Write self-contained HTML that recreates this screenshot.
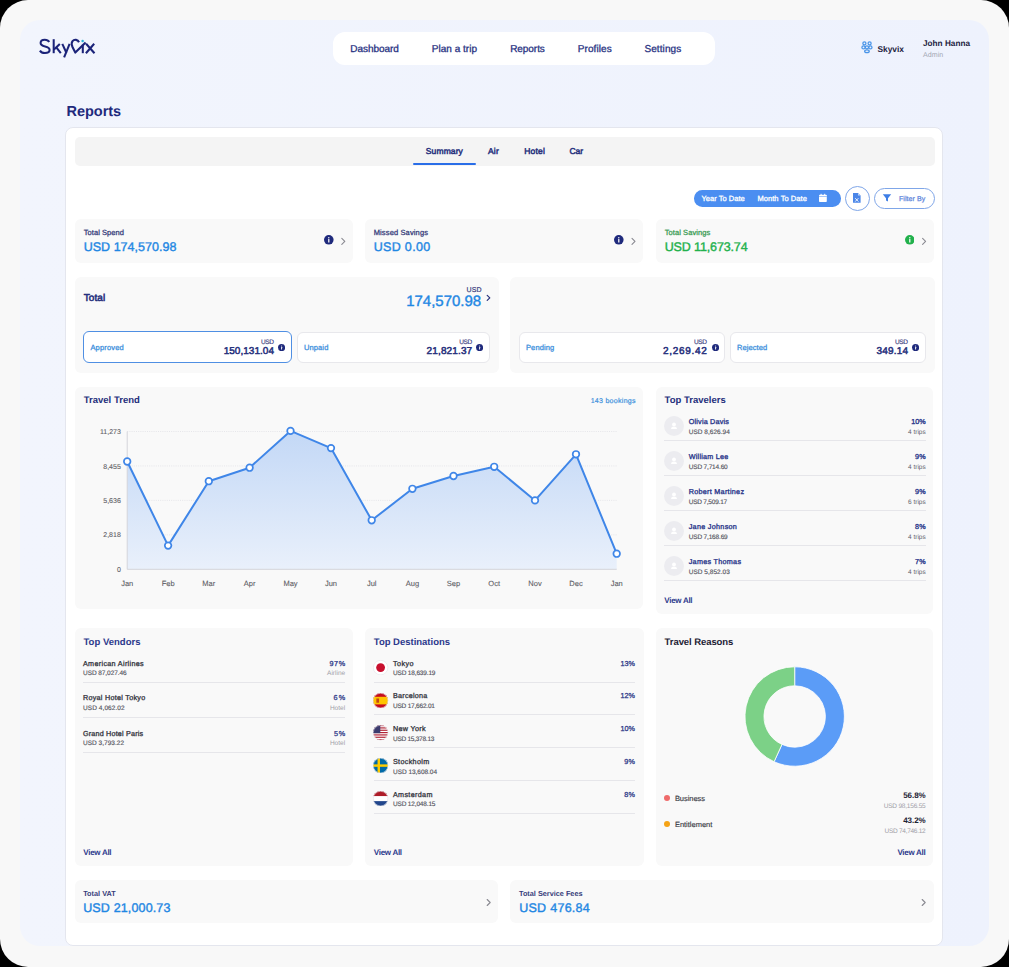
<!DOCTYPE html>
<html><head><meta charset="utf-8"><style>
html,body{margin:0;padding:0;}
body{width:1009px;height:967px;position:relative;overflow:hidden;background:#000;font-family:"Liberation Sans", sans-serif;text-rendering:geometricPrecision;}
</style></head><body>
<div style="position:absolute;left:0;top:0;width:1009px;height:967px;background:#f8f8f8;border-radius:28px;"></div>
<div style="position:absolute;left:20px;top:20px;width:969px;height:926px;background:linear-gradient(90deg,#f2f5fd,#eef2fd);border-radius:20px;overflow:hidden;"><div style="position:absolute;left:45px;top:107px;width:878px;height:819px;background:#fff;border:1px solid #e4e6ee;box-sizing:border-box;border-radius:8px;"></div></div>
<div style="position:absolute;left:333px;top:32px;width:382px;height:33px;background:#ffffff;border-radius:12px;"></div>
<svg style="position:absolute;left:0;top:0" width="120" height="70" viewBox="0 0 120 70"><g fill="none" stroke="#1b2379" stroke-width="2.05" stroke-linecap="butt" stroke-linejoin="round"><path d="M49.2,41.9 C48.3,40.3 46.7,39.7 44.8,39.7 C42.2,39.7 40.6,41.1 40.6,43.1 C40.6,45.3 42.6,45.9 45.1,46.4 C47.9,47 49.6,48 49.6,50.1 C49.6,52.2 47.6,53 44.9,53 C42.6,53 40.9,52.2 39.9,50.6"/><path d="M53.7,39.2 V53.2"/><path d="M59.8,44 L54,49.4"/><path d="M56.3,47.4 L60.8,53.2"/><path d="M62.3,43.9 L66.4,52.8"/><path d="M69.6,43.9 L64.1,57.4"/><path d="M79,42.2 C77.8,39.6 74.4,38.9 72.5,41.2 C71.2,42.8 71.6,45 72.6,47.2 L75.3,52.6 L85.6,42.6" stroke-width="2.1"/><path d="M82.8,44.6 V53.2"/><path d="M86.1,43.8 L94.5,53.2"/><path d="M94.2,43.8 L85.9,53.2"/></g><circle cx="82.6" cy="41.1" r="1.25" fill="#2bb5d8"/></svg>
<div style="position:absolute;left:75px;top:136.5px;width:859.5px;height:29.0px;background:#f4f4f4;border-radius:5px;"></div>
<div style="position:absolute;left:413px;top:163px;width:63px;height:2px;background:#2a6ee8;border-radius:1px;"></div>
<div style="position:absolute;left:693.6px;top:190px;width:147.10000000000002px;height:16.599999999999994px;background:#4b8ef1;border-radius:8.3px;"></div>
<div style="position:absolute;left:845px;top:186px;width:25.200000000000045px;height:25.19999999999999px;background:#ffffff;border-radius:13px;border:1px solid #7fa6e8;box-sizing:border-box;"></div>
<div style="position:absolute;left:874.2px;top:188.1px;width:60.39999999999998px;height:20.5px;background:#ffffff;border-radius:11px;border:1px solid #7fa6e8;box-sizing:border-box;"></div>
<div style="position:absolute;left:75px;top:219.2px;width:278px;height:43.60000000000002px;background:#f9f9f9;border-radius:6px;"></div>
<div style="position:absolute;left:365px;top:219.2px;width:278px;height:43.60000000000002px;background:#f9f9f9;border-radius:6px;"></div>
<div style="position:absolute;left:656px;top:219.2px;width:278px;height:43.60000000000002px;background:#f9f9f9;border-radius:6px;"></div>
<div style="position:absolute;left:74.5px;top:277px;width:424.0px;height:95.5px;background:#f9f9f9;border-radius:6px;"></div>
<div style="position:absolute;left:509.5px;top:277px;width:425.0px;height:95.5px;background:#f9f9f9;border-radius:6px;"></div>
<div style="position:absolute;left:83.2px;top:331.3px;width:208.8px;height:32.19999999999999px;background:#ffffff;border-radius:6px;border:1.5px solid #4f8fe3;box-sizing:border-box;"></div>
<div style="position:absolute;left:296.7px;top:331.5px;width:193.5px;height:31.80000000000001px;background:#ffffff;border-radius:6px;border:1px solid #e8e8ec;box-sizing:border-box;"></div>
<div style="position:absolute;left:518.8px;top:331.5px;width:206.10000000000002px;height:31.80000000000001px;background:#ffffff;border-radius:6px;border:1px solid #e8e8ec;box-sizing:border-box;"></div>
<div style="position:absolute;left:729.7px;top:331.5px;width:196.29999999999995px;height:31.80000000000001px;background:#ffffff;border-radius:6px;border:1px solid #e8e8ec;box-sizing:border-box;"></div>
<div style="position:absolute;left:75px;top:386.5px;width:568.3px;height:222.5px;background:#f9f9f9;border-radius:6px;"></div>
<svg style="position:absolute;left:0;top:0" width="1009" height="967" viewBox="0 0 1009 967"><defs><linearGradient id="ag" x1="0" y1="0" x2="0" y2="1"><stop offset="0" stop-color="#c3d8f6"/><stop offset="1" stop-color="#e9f0fb"/></linearGradient></defs><line x1="127.2" y1="431.5" x2="616.7" y2="431.5" stroke="#dedee4" stroke-width="0.7" stroke-dasharray="1,1.2"/><line x1="127.2" y1="465.95" x2="616.7" y2="465.95" stroke="#dedee4" stroke-width="0.7" stroke-dasharray="1,1.2"/><line x1="127.2" y1="500.4" x2="616.7" y2="500.4" stroke="#dedee4" stroke-width="0.7" stroke-dasharray="1,1.2"/><line x1="127.2" y1="534.8499999999999" x2="616.7" y2="534.8499999999999" stroke="#dedee4" stroke-width="0.7" stroke-dasharray="1,1.2"/><path d="M127.2,569.3 L127.2,461.5 L168.1,545.6 L208.8,481.2 L249.6,467.7 L290.5,430.9 L331,448.1 L371.7,520.3 L412.4,488.8 L453.5,476 L494.2,466.8 L535,500.4 L576,454.3 L616.7,553.7 L616.7,569.3 Z" fill="url(#ag)"/><line x1="127.2" y1="431.5" x2="127.2" y2="569.3" stroke="#d4d4da" stroke-width="1"/><line x1="127.2" y1="569.3" x2="616.7" y2="569.3" stroke="#d4d4da" stroke-width="1"/><polyline points="127.2,461.5 168.1,545.6 208.8,481.2 249.6,467.7 290.5,430.9 331,448.1 371.7,520.3 412.4,488.8 453.5,476 494.2,466.8 535,500.4 576,454.3 616.7,553.7" fill="none" stroke="#3f86e8" stroke-width="2" stroke-linejoin="round"/><circle cx="127.2" cy="461.5" r="3.3" fill="#fff" stroke="#3f86e8" stroke-width="1.7"/><circle cx="168.1" cy="545.6" r="3.3" fill="#fff" stroke="#3f86e8" stroke-width="1.7"/><circle cx="208.8" cy="481.2" r="3.3" fill="#fff" stroke="#3f86e8" stroke-width="1.7"/><circle cx="249.6" cy="467.7" r="3.3" fill="#fff" stroke="#3f86e8" stroke-width="1.7"/><circle cx="290.5" cy="430.9" r="3.3" fill="#fff" stroke="#3f86e8" stroke-width="1.7"/><circle cx="331" cy="448.1" r="3.3" fill="#fff" stroke="#3f86e8" stroke-width="1.7"/><circle cx="371.7" cy="520.3" r="3.3" fill="#fff" stroke="#3f86e8" stroke-width="1.7"/><circle cx="412.4" cy="488.8" r="3.3" fill="#fff" stroke="#3f86e8" stroke-width="1.7"/><circle cx="453.5" cy="476" r="3.3" fill="#fff" stroke="#3f86e8" stroke-width="1.7"/><circle cx="494.2" cy="466.8" r="3.3" fill="#fff" stroke="#3f86e8" stroke-width="1.7"/><circle cx="535" cy="500.4" r="3.3" fill="#fff" stroke="#3f86e8" stroke-width="1.7"/><circle cx="576" cy="454.3" r="3.3" fill="#fff" stroke="#3f86e8" stroke-width="1.7"/><circle cx="616.7" cy="553.7" r="3.3" fill="#fff" stroke="#3f86e8" stroke-width="1.7"/></svg>
<svg style="position:absolute;left:324.10px;top:235.30px" width="9.6" height="9.6" viewBox="0 0 10 10"><circle cx="5" cy="5" r="5" fill="#1f2a7c"/><rect x="4.35" y="4.2" width="1.3" height="3.6" rx="0.3" fill="#fff"/><circle cx="5" cy="2.8" r="0.75" fill="#fff"/></svg>
<svg style="position:absolute;left:0;top:0" width="1009" height="967" viewBox="0 0 1009 967"><path d="M341.8,238.3 L344.8,241.3 L341.8,244.3" fill="none" stroke="#8a8a92" stroke-width="1.1" stroke-linecap="round" stroke-linejoin="round"/></svg>
<svg style="position:absolute;left:614.20px;top:235.30px" width="9.6" height="9.6" viewBox="0 0 10 10"><circle cx="5" cy="5" r="5" fill="#1f2a7c"/><rect x="4.35" y="4.2" width="1.3" height="3.6" rx="0.3" fill="#fff"/><circle cx="5" cy="2.8" r="0.75" fill="#fff"/></svg>
<svg style="position:absolute;left:0;top:0" width="1009" height="967" viewBox="0 0 1009 967"><path d="M632,238.3 L635,241.3 L632,244.3" fill="none" stroke="#8a8a92" stroke-width="1.1" stroke-linecap="round" stroke-linejoin="round"/></svg>
<svg style="position:absolute;left:904.60px;top:235.30px" width="9.6" height="9.6" viewBox="0 0 10 10"><circle cx="5" cy="5" r="5" fill="#22b14c"/><rect x="4.35" y="4.2" width="1.3" height="3.6" rx="0.3" fill="#fff"/><circle cx="5" cy="2.8" r="0.75" fill="#fff"/></svg>
<svg style="position:absolute;left:0;top:0" width="1009" height="967" viewBox="0 0 1009 967"><path d="M922.6,238.3 L925.6,241.3 L922.6,244.3" fill="none" stroke="#8a8a92" stroke-width="1.1" stroke-linecap="round" stroke-linejoin="round"/></svg>
<svg style="position:absolute;left:0;top:0" width="1009" height="967" viewBox="0 0 1009 967"><path d="M487.2,295.4 L489.8,297.9 L487.2,300.4" fill="none" stroke="#26307c" stroke-width="1.2" stroke-linecap="round" stroke-linejoin="round"/></svg>
<svg style="position:absolute;left:277.80px;top:344.00px" width="7.2" height="7.2" viewBox="0 0 10 10"><circle cx="5" cy="5" r="5" fill="#1f2a7c"/><rect x="4.35" y="4.2" width="1.3" height="3.6" rx="0.3" fill="#fff"/><circle cx="5" cy="2.8" r="0.75" fill="#fff"/></svg>
<svg style="position:absolute;left:476.20px;top:343.80px" width="7.2" height="7.2" viewBox="0 0 10 10"><circle cx="5" cy="5" r="5" fill="#1f2a7c"/><rect x="4.35" y="4.2" width="1.3" height="3.6" rx="0.3" fill="#fff"/><circle cx="5" cy="2.8" r="0.75" fill="#fff"/></svg>
<svg style="position:absolute;left:711.80px;top:344.00px" width="7.2" height="7.2" viewBox="0 0 10 10"><circle cx="5" cy="5" r="5" fill="#1f2a7c"/><rect x="4.35" y="4.2" width="1.3" height="3.6" rx="0.3" fill="#fff"/><circle cx="5" cy="2.8" r="0.75" fill="#fff"/></svg>
<svg style="position:absolute;left:912.10px;top:344.00px" width="7.2" height="7.2" viewBox="0 0 10 10"><circle cx="5" cy="5" r="5" fill="#1f2a7c"/><rect x="4.35" y="4.2" width="1.3" height="3.6" rx="0.3" fill="#fff"/><circle cx="5" cy="2.8" r="0.75" fill="#fff"/></svg>
<svg style="position:absolute;left:818px;top:193px" width="10" height="10" viewBox="0 0 10 10"><rect x="1" y="1.8" width="7.8" height="7.2" rx="0.8" fill="#fff"/><rect x="2.6" y="0.8" width="1" height="2" fill="#fff"/><rect x="6.2" y="0.8" width="1" height="2" fill="#fff"/><rect x="1" y="3.2" width="7.8" height="0.5" fill="#4b8ef1"/></svg>
<svg style="position:absolute;left:852px;top:192px" width="10" height="12" viewBox="0 0 10 12"><path d="M1,1 H6 L8.6,3.6 V10.8 H1 Z" fill="#4b86e8"/><path d="M6,1 V3.6 H8.6" fill="#bcd3f7"/><path d="M3.2,6.2 L6.4,9.6 M6.4,6.2 L3.2,9.6" stroke="#fff" stroke-width="0.9"/></svg>
<svg style="position:absolute;left:882px;top:193px" width="10" height="10" viewBox="0 0 10 10"><path d="M0.8,1.3 H9.2 L6,5.2 V8.6 L4,7.6 V5.2 Z" fill="#3f7fe6"/></svg>
<svg style="position:absolute;left:858px;top:38px" width="18" height="18" viewBox="858 38 18 18"><g fill="none" stroke="#4a95e8" stroke-width="1.25"><circle cx="864.4" cy="43.3" r="1.55"/><circle cx="869.6" cy="43.3" r="1.55"/><ellipse cx="863.5" cy="47.4" rx="1.6" ry="1.5"/><ellipse cx="870.4" cy="47.4" rx="1.6" ry="1.5"/><ellipse cx="866.95" cy="47.3" rx="1.6" ry="1.5"/><ellipse cx="866.95" cy="51.3" rx="2.3" ry="1.4"/></g></svg>
<div style="position:absolute;left:656px;top:386.5px;width:277px;height:227.29999999999995px;background:#f9f9f9;border-radius:6px;"></div>
<div style="position:absolute;left:75.2px;top:628.1px;width:277.90000000000003px;height:237.69999999999993px;background:#f9f9f9;border-radius:6px;"></div>
<div style="position:absolute;left:365.2px;top:628.1px;width:278.50000000000006px;height:237.69999999999993px;background:#f9f9f9;border-radius:6px;"></div>
<div style="position:absolute;left:655.8px;top:628.1px;width:277.20000000000005px;height:237.69999999999993px;background:#f9f9f9;border-radius:6px;"></div>
<div style="position:absolute;left:664px;top:416.20px;width:20px;height:20px;border-radius:50%;background:#ececf0;"></div>
<svg style="position:absolute;left:669px;top:421.20px" width="10" height="10" viewBox="0 0 10 10"><circle cx="5" cy="3.4" r="1.9" fill="#fff"/><path d="M1.9 8 Q2.2 5.6 5 5.6 Q7.8 5.6 8.1 8 Z" fill="#fff"/></svg>
<div style="position:absolute;left:664px;top:440.0px;width:261.70000000000005px;height:0.8000000000000114px;background:#e6e6ea;border-radius:0px;"></div>
<div style="position:absolute;left:664px;top:451.27px;width:20px;height:20px;border-radius:50%;background:#ececf0;"></div>
<svg style="position:absolute;left:669px;top:456.27px" width="10" height="10" viewBox="0 0 10 10"><circle cx="5" cy="3.4" r="1.9" fill="#fff"/><path d="M1.9 8 Q2.2 5.6 5 5.6 Q7.8 5.6 8.1 8 Z" fill="#fff"/></svg>
<div style="position:absolute;left:664px;top:475.07px;width:261.70000000000005px;height:0.8000000000000114px;background:#e6e6ea;border-radius:0px;"></div>
<div style="position:absolute;left:664px;top:486.34px;width:20px;height:20px;border-radius:50%;background:#ececf0;"></div>
<svg style="position:absolute;left:669px;top:491.34px" width="10" height="10" viewBox="0 0 10 10"><circle cx="5" cy="3.4" r="1.9" fill="#fff"/><path d="M1.9 8 Q2.2 5.6 5 5.6 Q7.8 5.6 8.1 8 Z" fill="#fff"/></svg>
<div style="position:absolute;left:664px;top:510.14px;width:261.70000000000005px;height:0.8000000000000114px;background:#e6e6ea;border-radius:0px;"></div>
<div style="position:absolute;left:664px;top:521.41px;width:20px;height:20px;border-radius:50%;background:#ececf0;"></div>
<svg style="position:absolute;left:669px;top:526.41px" width="10" height="10" viewBox="0 0 10 10"><circle cx="5" cy="3.4" r="1.9" fill="#fff"/><path d="M1.9 8 Q2.2 5.6 5 5.6 Q7.8 5.6 8.1 8 Z" fill="#fff"/></svg>
<div style="position:absolute;left:664px;top:545.21px;width:261.70000000000005px;height:0.7999999999999545px;background:#e6e6ea;border-radius:0px;"></div>
<div style="position:absolute;left:664px;top:556.48px;width:20px;height:20px;border-radius:50%;background:#ececf0;"></div>
<svg style="position:absolute;left:669px;top:561.48px" width="10" height="10" viewBox="0 0 10 10"><circle cx="5" cy="3.4" r="1.9" fill="#fff"/><path d="M1.9 8 Q2.2 5.6 5 5.6 Q7.8 5.6 8.1 8 Z" fill="#fff"/></svg>
<div style="position:absolute;left:664px;top:580.28px;width:261.70000000000005px;height:0.8000000000000682px;background:#e6e6ea;border-radius:0px;"></div>
<div style="position:absolute;left:83px;top:682px;width:262.1px;height:0.7999999999999545px;background:#e6e6ea;border-radius:0px;"></div>
<div style="position:absolute;left:83px;top:717px;width:262.1px;height:0.7999999999999545px;background:#e6e6ea;border-radius:0px;"></div>
<div style="position:absolute;left:83px;top:752px;width:262.1px;height:0.7999999999999545px;background:#e6e6ea;border-radius:0px;"></div>
<svg style="position:absolute;left:373.40px;top:659.80px" width="15.2" height="15.2" viewBox="0 0 15.2 15.2"><defs><clipPath id="cjp"><circle cx="7.6" cy="7.6" r="7.6"/></clipPath></defs><g clip-path="url(#cjp)"><rect width="15.2" height="15.2" fill="#fff"/><circle cx="7.6" cy="7.6" r="4.4079999999999995" fill="#c8102e"/></g><circle cx="7.6" cy="7.6" r="7.3" fill="none" stroke="#e3e3e8" stroke-width="0.6"/></svg>
<div style="position:absolute;left:373.8px;top:681.6px;width:261.2px;height:0.7999999999999545px;background:#e6e6ea;border-radius:0px;"></div>
<svg style="position:absolute;left:373.40px;top:692.60px" width="15.2" height="15.2" viewBox="0 0 15.2 15.2"><defs><clipPath id="ces"><circle cx="7.6" cy="7.6" r="7.6"/></clipPath></defs><g clip-path="url(#ces)"><rect width="15.2" height="15.2" fill="#c60b1e"/><rect y="3.8" width="15.2" height="7.6" fill="#ffc400"/><rect x="3.344" y="5.4719999999999995" width="2.7359999999999998" height="4.256" fill="#ad1519" opacity="0.7"/></g><circle cx="7.6" cy="7.6" r="7.3" fill="none" stroke="#e3e3e8" stroke-width="0.6"/></svg>
<div style="position:absolute;left:373.8px;top:714.4px;width:261.2px;height:0.7999999999999545px;background:#e6e6ea;border-radius:0px;"></div>
<svg style="position:absolute;left:373.40px;top:725.40px" width="15.2" height="15.2" viewBox="0 0 15.2 15.2"><defs><clipPath id="cus"><circle cx="7.6" cy="7.6" r="7.6"/></clipPath></defs><g clip-path="url(#cus)"><rect width="15.2" height="15.2" fill="#fff"/><rect y="0.0" width="15.2" height="1.169230769230769" fill="#b22234"/><rect y="2.338461538461538" width="15.2" height="1.169230769230769" fill="#b22234"/><rect y="4.676923076923076" width="15.2" height="1.169230769230769" fill="#b22234"/><rect y="7.015384615384614" width="15.2" height="1.169230769230769" fill="#b22234"/><rect y="9.353846153846153" width="15.2" height="1.169230769230769" fill="#b22234"/><rect y="11.692307692307692" width="15.2" height="1.169230769230769" fill="#b22234"/><rect y="14.030769230769229" width="15.2" height="1.169230769230769" fill="#b22234"/><rect width="7.295999999999999" height="8.184615384615384" fill="#3c3b6e"/></g><circle cx="7.6" cy="7.6" r="7.3" fill="none" stroke="#e3e3e8" stroke-width="0.6"/></svg>
<div style="position:absolute;left:373.8px;top:747.2px;width:261.2px;height:0.7999999999999545px;background:#e6e6ea;border-radius:0px;"></div>
<svg style="position:absolute;left:373.40px;top:758.20px" width="15.2" height="15.2" viewBox="0 0 15.2 15.2"><defs><clipPath id="cse"><circle cx="7.6" cy="7.6" r="7.6"/></clipPath></defs><g clip-path="url(#cse)"><rect width="15.2" height="15.2" fill="#006aa7"/><rect x="4.56" width="2.432" height="15.2" fill="#fecc00"/><rect y="6.3839999999999995" width="15.2" height="2.432" fill="#fecc00"/></g><circle cx="7.6" cy="7.6" r="7.3" fill="none" stroke="#e3e3e8" stroke-width="0.6"/></svg>
<div style="position:absolute;left:373.8px;top:780.0px;width:261.2px;height:0.7999999999999545px;background:#e6e6ea;border-radius:0px;"></div>
<svg style="position:absolute;left:373.40px;top:791.00px" width="15.2" height="15.2" viewBox="0 0 15.2 15.2"><defs><clipPath id="cnl"><circle cx="7.6" cy="7.6" r="7.6"/></clipPath></defs><g clip-path="url(#cnl)"><rect width="15.2" height="15.2" fill="#fff"/><rect width="15.2" height="5.066666666666666" fill="#ae1c28"/><rect y="10.133333333333333" width="15.2" height="5.066666666666666" fill="#21468b"/></g><circle cx="7.6" cy="7.6" r="7.3" fill="none" stroke="#e3e3e8" stroke-width="0.6"/></svg>
<div style="position:absolute;left:373.8px;top:812.8px;width:261.2px;height:0.7999999999999545px;background:#e6e6ea;border-radius:0px;"></div>
<svg style="position:absolute;left:0;top:0" width="1009" height="967" viewBox="0 0 1009 967"><path d="M794.70,666.80 A49.7,49.7 0 1 1 774.09,761.73 L781.97,744.44 A30.7,30.7 0 1 0 794.70,685.80 Z" fill="#5b9cf7" stroke="#fff" stroke-width="0.8"/><path d="M774.09,761.73 A49.7,49.7 0 0 1 794.70,666.80 L794.70,685.80 A30.7,30.7 0 0 0 781.97,744.44 Z" fill="#7cd187" stroke="#fff" stroke-width="0.8"/></svg>
<div style="position:absolute;left:664px;top:795.4px;width:6px;height:6px;border-radius:50%;background:#ef6b6b;"></div>
<div style="position:absolute;left:664px;top:821px;width:6px;height:6px;border-radius:50%;background:#f5a316;"></div>
<div style="position:absolute;left:74.7px;top:879.8px;width:423.7px;height:43.700000000000045px;background:#f9f9f9;border-radius:6px;"></div>
<div style="position:absolute;left:509.8px;top:879.8px;width:424.2px;height:43.700000000000045px;background:#f9f9f9;border-radius:6px;"></div>
<svg style="position:absolute;left:0;top:0" width="1009" height="967" viewBox="0 0 1009 967"><path d="M487.2,899.5 L490.2,902.5 L487.2,905.5" fill="none" stroke="#8a8a92" stroke-width="1.1" stroke-linecap="round" stroke-linejoin="round"/></svg>
<svg style="position:absolute;left:0;top:0" width="1009" height="967" viewBox="0 0 1009 967"><path d="M922.2,899.5 L925.2,902.5 L922.2,905.5" fill="none" stroke="#8a8a92" stroke-width="1.1" stroke-linecap="round" stroke-linejoin="round"/></svg>
<div style="position:absolute;top:45px;line-height:10px;white-space:nowrap;color:#283282;font-size:10px;font-weight:400;letter-spacing:-0.047px;-webkit-text-stroke:0.3px #283282;left:350.3px;">Dashboard</div>
<div style="position:absolute;top:45px;line-height:10px;white-space:nowrap;color:#283282;font-size:10px;font-weight:400;letter-spacing:0.015px;-webkit-text-stroke:0.3px #283282;left:431.8px;">Plan a trip</div>
<div style="position:absolute;top:45px;line-height:10px;white-space:nowrap;color:#283282;font-size:10px;font-weight:400;letter-spacing:-0.059px;-webkit-text-stroke:0.3px #283282;left:510.2px;">Reports</div>
<div style="position:absolute;top:45px;line-height:10px;white-space:nowrap;color:#283282;font-size:10px;font-weight:400;letter-spacing:0.105px;-webkit-text-stroke:0.3px #283282;left:577.7px;">Profiles</div>
<div style="position:absolute;top:45px;line-height:10px;white-space:nowrap;color:#283282;font-size:10px;font-weight:400;letter-spacing:0.107px;-webkit-text-stroke:0.3px #283282;left:644.4px;">Settings</div>
<div style="position:absolute;top:45px;line-height:8.4px;white-space:nowrap;color:#1c2240;font-size:8.4px;font-weight:700;letter-spacing:0.009px;left:877.4px;">Skyvix</div>
<div style="position:absolute;top:40px;line-height:8.2px;white-space:nowrap;color:#1c2240;font-size:8.2px;font-weight:700;letter-spacing:0.014px;left:923px;">John Hanna</div>
<div style="position:absolute;top:52px;line-height:7.1px;white-space:nowrap;color:#a3a7b3;font-size:7.1px;font-weight:400;letter-spacing:0.018px;left:923px;">Admin</div>
<div style="position:absolute;top:105px;line-height:14.5px;white-space:nowrap;color:#1f2a7c;font-size:14.5px;font-weight:700;letter-spacing:-0.042px;left:66.6px;">Reports</div>
<div style="position:absolute;top:147px;line-height:8.5px;white-space:nowrap;color:#28327e;font-size:8.5px;font-weight:400;letter-spacing:0.118px;-webkit-text-stroke:0.5px #28327e;left:425.8px;">Summary</div>
<div style="position:absolute;top:147px;line-height:8.5px;white-space:nowrap;color:#28327e;font-size:8.5px;font-weight:400;letter-spacing:0.203px;-webkit-text-stroke:0.5px #28327e;left:488px;">Air</div>
<div style="position:absolute;top:147px;line-height:8.5px;white-space:nowrap;color:#28327e;font-size:8.5px;font-weight:400;letter-spacing:0.171px;-webkit-text-stroke:0.5px #28327e;left:524.3px;">Hotel</div>
<div style="position:absolute;top:147px;line-height:8.5px;white-space:nowrap;color:#28327e;font-size:8.5px;font-weight:400;letter-spacing:-0.068px;-webkit-text-stroke:0.5px #28327e;left:569.5px;">Car</div>
<div style="position:absolute;top:195px;line-height:7.5px;white-space:nowrap;color:#ffffff;font-size:7.5px;font-weight:400;letter-spacing:0.021px;-webkit-text-stroke:0.3px #ffffff;left:701.5px;">Year To Date</div>
<div style="position:absolute;top:195px;line-height:7.5px;white-space:nowrap;color:#ffffff;font-size:7.5px;font-weight:400;letter-spacing:0.074px;-webkit-text-stroke:0.3px #ffffff;left:757.4px;">Month To Date</div>
<div style="position:absolute;top:196px;line-height:7px;white-space:nowrap;color:#5f86dc;font-size:7px;font-weight:400;letter-spacing:0.059px;-webkit-text-stroke:0.25px #5f86dc;left:899px;">Filter By</div>
<div style="position:absolute;top:229px;line-height:7.5px;white-space:nowrap;color:#363c7a;font-size:7.5px;font-weight:400;letter-spacing:0.07px;-webkit-text-stroke:0.28px #363c7a;left:83.7px;">Total Spend</div>
<div style="position:absolute;top:241px;line-height:12.5px;white-space:nowrap;color:#1f87e3;font-size:12.5px;font-weight:400;letter-spacing:0.019px;-webkit-text-stroke:0.4px #1f87e3;left:83.7px;">USD 174,570.98</div>
<div style="position:absolute;top:229px;line-height:7.5px;white-space:nowrap;color:#363c7a;font-size:7.5px;font-weight:400;letter-spacing:0.133px;-webkit-text-stroke:0.28px #363c7a;left:373.7px;">Missed Savings</div>
<div style="position:absolute;top:241px;line-height:12.5px;white-space:nowrap;color:#1f87e3;font-size:12.5px;font-weight:400;letter-spacing:0.325px;-webkit-text-stroke:0.4px #1f87e3;left:373.7px;">USD 0.00</div>
<div style="position:absolute;top:229px;line-height:7.5px;white-space:nowrap;color:#3a9c55;font-size:7.5px;font-weight:400;letter-spacing:0.076px;-webkit-text-stroke:0.28px #3a9c55;left:664.7px;">Total Savings</div>
<div style="position:absolute;top:241px;line-height:12.5px;white-space:nowrap;color:#22b14c;font-size:12.5px;font-weight:400;letter-spacing:-0.134px;-webkit-text-stroke:0.4px #22b14c;left:664.7px;">USD 11,673.74</div>
<div style="position:absolute;top:294px;line-height:10px;white-space:nowrap;color:#26307c;font-size:10px;font-weight:400;letter-spacing:0.095px;-webkit-text-stroke:0.55px #26307c;left:83.7px;">Total</div>
<div style="position:absolute;top:294px;line-height:15px;white-space:nowrap;color:#1f87e3;font-size:15px;font-weight:400;letter-spacing:-0.008px;-webkit-text-stroke:0.4px #1f87e3;right:527.81px;">174,570.98</div>
<div style="position:absolute;top:287px;line-height:7px;white-space:nowrap;color:#3a4080;font-size:7px;font-weight:400;letter-spacing:0.173px;-webkit-text-stroke:0.2px #3a4080;right:527.23px;">USD</div>
<div style="position:absolute;top:344px;line-height:7.5px;white-space:nowrap;color:#3b8fdc;font-size:7.5px;font-weight:400;letter-spacing:0.174px;-webkit-text-stroke:0.28px #3b8fdc;left:90.4px;">Approved</div>
<div style="position:absolute;top:347px;line-height:10px;white-space:nowrap;color:#26307c;font-size:10px;font-weight:400;letter-spacing:0.034px;-webkit-text-stroke:0.5px #26307c;right:734.97px;">150,131.04</div>
<div style="position:absolute;top:340px;line-height:6.5px;white-space:nowrap;color:#3a4080;font-size:6.5px;font-weight:400;letter-spacing:-0.378px;-webkit-text-stroke:0.15px #3a4080;right:735.38px;">USD</div>
<div style="position:absolute;top:344px;line-height:7.5px;white-space:nowrap;color:#3b8fdc;font-size:7.5px;font-weight:400;letter-spacing:0.136px;-webkit-text-stroke:0.28px #3b8fdc;left:303.9px;">Unpaid</div>
<div style="position:absolute;top:347px;line-height:10px;white-space:nowrap;color:#26307c;font-size:10px;font-weight:400;letter-spacing:0.144px;-webkit-text-stroke:0.5px #26307c;right:536.66px;">21,821.37</div>
<div style="position:absolute;top:340px;line-height:6.5px;white-space:nowrap;color:#3a4080;font-size:6.5px;font-weight:400;letter-spacing:-0.378px;-webkit-text-stroke:0.15px #3a4080;right:537.18px;">USD</div>
<div style="position:absolute;top:344px;line-height:7.5px;white-space:nowrap;color:#3b8fdc;font-size:7.5px;font-weight:400;letter-spacing:0.11px;-webkit-text-stroke:0.28px #3b8fdc;left:526.0px;">Pending</div>
<div style="position:absolute;top:347px;line-height:10px;white-space:nowrap;color:#26307c;font-size:10px;font-weight:400;letter-spacing:0.72px;-webkit-text-stroke:0.5px #26307c;right:301.38px;">2,269.42</div>
<div style="position:absolute;top:340px;line-height:6.5px;white-space:nowrap;color:#3a4080;font-size:6.5px;font-weight:400;letter-spacing:-0.378px;-webkit-text-stroke:0.15px #3a4080;right:302.48px;">USD</div>
<div style="position:absolute;top:344px;line-height:7.5px;white-space:nowrap;color:#3b8fdc;font-size:7.5px;font-weight:400;letter-spacing:0.086px;-webkit-text-stroke:0.28px #3b8fdc;left:736.9000000000001px;">Rejected</div>
<div style="position:absolute;top:347px;line-height:10px;white-space:nowrap;color:#26307c;font-size:10px;font-weight:400;letter-spacing:0.168px;-webkit-text-stroke:0.5px #26307c;right:100.83px;">349.14</div>
<div style="position:absolute;top:340px;line-height:6.5px;white-space:nowrap;color:#3a4080;font-size:6.5px;font-weight:400;letter-spacing:-0.378px;-webkit-text-stroke:0.15px #3a4080;right:101.38px;">USD</div>
<div style="position:absolute;top:396px;line-height:9.5px;white-space:nowrap;color:#26307c;font-size:9.5px;font-weight:700;letter-spacing:0.018px;left:83.7px;">Travel Trend</div>
<div style="position:absolute;top:398px;line-height:7px;white-space:nowrap;color:#3b8fdc;font-size:7px;font-weight:400;letter-spacing:0.295px;-webkit-text-stroke:0.2px #3b8fdc;right:373.20px;">143 bookings</div>
<div style="position:absolute;top:429px;line-height:7px;white-space:nowrap;color:#5e5e66;font-size:7px;font-weight:400;letter-spacing:0px;-webkit-text-stroke:0.1px #5e5e66;right:888.20px;">11,273</div>
<div style="position:absolute;top:464px;line-height:7px;white-space:nowrap;color:#5e5e66;font-size:7px;font-weight:400;letter-spacing:0px;-webkit-text-stroke:0.1px #5e5e66;right:888.20px;">8,455</div>
<div style="position:absolute;top:498px;line-height:7px;white-space:nowrap;color:#5e5e66;font-size:7px;font-weight:400;letter-spacing:0px;-webkit-text-stroke:0.1px #5e5e66;right:888.20px;">5,636</div>
<div style="position:absolute;top:532px;line-height:7px;white-space:nowrap;color:#5e5e66;font-size:7px;font-weight:400;letter-spacing:0px;-webkit-text-stroke:0.1px #5e5e66;right:888.20px;">2,818</div>
<div style="position:absolute;top:567px;line-height:7px;white-space:nowrap;color:#5e5e66;font-size:7px;font-weight:400;letter-spacing:0px;-webkit-text-stroke:0.1px #5e5e66;right:888.20px;">0</div>
<div style="position:absolute;top:580px;line-height:7.5px;white-space:nowrap;color:#5e5e66;font-size:7.5px;font-weight:400;letter-spacing:0px;-webkit-text-stroke:0.1px #5e5e66;left:121.15px;">Jan</div>
<div style="position:absolute;top:580px;line-height:7.5px;white-space:nowrap;color:#5e5e66;font-size:7.5px;font-weight:400;letter-spacing:0px;-webkit-text-stroke:0.1px #5e5e66;left:161.63px;">Feb</div>
<div style="position:absolute;top:580px;line-height:7.5px;white-space:nowrap;color:#5e5e66;font-size:7.5px;font-weight:400;letter-spacing:0px;-webkit-text-stroke:0.1px #5e5e66;left:202.34px;">Mar</div>
<div style="position:absolute;top:580px;line-height:7.5px;white-space:nowrap;color:#5e5e66;font-size:7.5px;font-weight:400;letter-spacing:0px;-webkit-text-stroke:0.1px #5e5e66;left:243.76px;">Apr</div>
<div style="position:absolute;top:580px;line-height:7.5px;white-space:nowrap;color:#5e5e66;font-size:7.5px;font-weight:400;letter-spacing:0px;-webkit-text-stroke:0.1px #5e5e66;left:283.41px;">May</div>
<div style="position:absolute;top:580px;line-height:7.5px;white-space:nowrap;color:#5e5e66;font-size:7.5px;font-weight:400;letter-spacing:0px;-webkit-text-stroke:0.1px #5e5e66;left:324.95px;">Jun</div>
<div style="position:absolute;top:580px;line-height:7.5px;white-space:nowrap;color:#5e5e66;font-size:7.5px;font-weight:400;letter-spacing:0px;-webkit-text-stroke:0.1px #5e5e66;left:366.90px;">Jul</div>
<div style="position:absolute;top:580px;line-height:7.5px;white-space:nowrap;color:#5e5e66;font-size:7.5px;font-weight:400;letter-spacing:0px;-webkit-text-stroke:0.1px #5e5e66;left:405.72px;">Aug</div>
<div style="position:absolute;top:580px;line-height:7.5px;white-space:nowrap;color:#5e5e66;font-size:7.5px;font-weight:400;letter-spacing:0px;-webkit-text-stroke:0.1px #5e5e66;left:446.82px;">Sep</div>
<div style="position:absolute;top:580px;line-height:7.5px;white-space:nowrap;color:#5e5e66;font-size:7.5px;font-weight:400;letter-spacing:0px;-webkit-text-stroke:0.1px #5e5e66;left:488.36px;">Oct</div>
<div style="position:absolute;top:580px;line-height:7.5px;white-space:nowrap;color:#5e5e66;font-size:7.5px;font-weight:400;letter-spacing:0px;-webkit-text-stroke:0.1px #5e5e66;left:528.33px;">Nov</div>
<div style="position:absolute;top:580px;line-height:7.5px;white-space:nowrap;color:#5e5e66;font-size:7.5px;font-weight:400;letter-spacing:0px;-webkit-text-stroke:0.1px #5e5e66;left:569.33px;">Dec</div>
<div style="position:absolute;top:580px;line-height:7.5px;white-space:nowrap;color:#5e5e66;font-size:7.5px;font-weight:400;letter-spacing:0px;-webkit-text-stroke:0.1px #5e5e66;left:610.65px;">Jan</div>
<div style="position:absolute;top:396px;line-height:9.5px;white-space:nowrap;color:#26307c;font-size:9.5px;font-weight:700;letter-spacing:0px;left:664.6px;">Top Travelers</div>
<div style="position:absolute;top:638px;line-height:9.5px;white-space:nowrap;color:#2d3a8c;font-size:9.5px;font-weight:700;letter-spacing:0.014px;left:83.5px;">Top Vendors</div>
<div style="position:absolute;top:638px;line-height:9.5px;white-space:nowrap;color:#2d3a8c;font-size:9.5px;font-weight:700;letter-spacing:-0.01px;left:373.8px;">Top Destinations</div>
<div style="position:absolute;top:638px;line-height:9.5px;white-space:nowrap;color:#1e2235;font-size:9.5px;font-weight:700;letter-spacing:-0.073px;left:664.6px;">Travel Reasons</div>
<div style="position:absolute;top:418px;line-height:7.2px;white-space:nowrap;color:#2d3a8c;font-size:7.2px;font-weight:400;letter-spacing:0.204px;-webkit-text-stroke:0.35px #2d3a8c;left:688.7px;">Olivia Davis</div>
<div style="position:absolute;top:430px;line-height:6.5px;white-space:nowrap;color:#55555f;font-size:6.5px;font-weight:400;letter-spacing:0.03px;-webkit-text-stroke:0.15px #55555f;left:688.7px;">USD 8,626.94</div>
<div style="position:absolute;top:418px;line-height:7.2px;white-space:nowrap;color:#2d3a8c;font-size:7.2px;font-weight:400;letter-spacing:0.07px;-webkit-text-stroke:0.35px #2d3a8c;right:83.23px;">10%</div>
<div style="position:absolute;top:430px;line-height:6.5px;white-space:nowrap;color:#62626e;font-size:6.5px;font-weight:400;letter-spacing:-0.015px;right:83.31px;">4 trips</div>
<div style="position:absolute;top:453px;line-height:7.2px;white-space:nowrap;color:#2d3a8c;font-size:7.2px;font-weight:400;letter-spacing:0.24px;-webkit-text-stroke:0.35px #2d3a8c;left:688.7px;">William Lee</div>
<div style="position:absolute;top:465px;line-height:6.5px;white-space:nowrap;color:#55555f;font-size:6.5px;font-weight:400;letter-spacing:-0.162px;-webkit-text-stroke:0.15px #55555f;left:688.7px;">USD 7,714.60</div>
<div style="position:absolute;top:453px;line-height:7.2px;white-space:nowrap;color:#2d3a8c;font-size:7.2px;font-weight:400;letter-spacing:0.355px;-webkit-text-stroke:0.35px #2d3a8c;right:82.95px;">9%</div>
<div style="position:absolute;top:465px;line-height:6.5px;white-space:nowrap;color:#62626e;font-size:6.5px;font-weight:400;letter-spacing:-0.015px;right:83.31px;">4 trips</div>
<div style="position:absolute;top:488px;line-height:7.2px;white-space:nowrap;color:#2d3a8c;font-size:7.2px;font-weight:400;letter-spacing:0.297px;-webkit-text-stroke:0.35px #2d3a8c;left:688.7px;">Robert Martinez</div>
<div style="position:absolute;top:500px;line-height:6.5px;white-space:nowrap;color:#55555f;font-size:6.5px;font-weight:400;letter-spacing:-0.212px;-webkit-text-stroke:0.15px #55555f;left:688.7px;">USD 7,509.17</div>
<div style="position:absolute;top:488px;line-height:7.2px;white-space:nowrap;color:#2d3a8c;font-size:7.2px;font-weight:400;letter-spacing:0.355px;-webkit-text-stroke:0.35px #2d3a8c;right:82.95px;">9%</div>
<div style="position:absolute;top:500px;line-height:6.5px;white-space:nowrap;color:#62626e;font-size:6.5px;font-weight:400;letter-spacing:-0.015px;right:83.31px;">6 trips</div>
<div style="position:absolute;top:523px;line-height:7.2px;white-space:nowrap;color:#2d3a8c;font-size:7.2px;font-weight:400;letter-spacing:0.311px;-webkit-text-stroke:0.35px #2d3a8c;left:688.7px;">Jane Johnson</div>
<div style="position:absolute;top:535px;line-height:6.5px;white-space:nowrap;color:#55555f;font-size:6.5px;font-weight:400;letter-spacing:-0.162px;-webkit-text-stroke:0.15px #55555f;left:688.7px;">USD 7,168.69</div>
<div style="position:absolute;top:523px;line-height:7.2px;white-space:nowrap;color:#2d3a8c;font-size:7.2px;font-weight:400;letter-spacing:0.355px;-webkit-text-stroke:0.35px #2d3a8c;right:82.95px;">8%</div>
<div style="position:absolute;top:535px;line-height:6.5px;white-space:nowrap;color:#62626e;font-size:6.5px;font-weight:400;letter-spacing:-0.015px;right:83.31px;">4 trips</div>
<div style="position:absolute;top:558px;line-height:7.2px;white-space:nowrap;color:#2d3a8c;font-size:7.2px;font-weight:400;letter-spacing:0.3px;-webkit-text-stroke:0.35px #2d3a8c;left:688.7px;">James Thomas</div>
<div style="position:absolute;top:570px;line-height:6.5px;white-space:nowrap;color:#55555f;font-size:6.5px;font-weight:400;letter-spacing:0.03px;-webkit-text-stroke:0.15px #55555f;left:688.7px;">USD 5,852.03</div>
<div style="position:absolute;top:558px;line-height:7.2px;white-space:nowrap;color:#2d3a8c;font-size:7.2px;font-weight:400;letter-spacing:0.355px;-webkit-text-stroke:0.35px #2d3a8c;right:82.95px;">7%</div>
<div style="position:absolute;top:570px;line-height:6.5px;white-space:nowrap;color:#62626e;font-size:6.5px;font-weight:400;letter-spacing:-0.015px;right:83.31px;">4 trips</div>
<div style="position:absolute;top:597px;line-height:8px;white-space:nowrap;color:#2d3a8c;font-size:8px;font-weight:700;letter-spacing:-0.279px;left:664.3px;">View All</div>
<div style="position:absolute;top:660px;line-height:7.2px;white-space:nowrap;color:#33343d;font-size:7.2px;font-weight:400;letter-spacing:0.322px;-webkit-text-stroke:0.3px #33343d;left:83px;">American Airlines</div>
<div style="position:absolute;top:671px;line-height:6.5px;white-space:nowrap;color:#55555f;font-size:6.5px;font-weight:400;letter-spacing:-0.066px;-webkit-text-stroke:0.15px #55555f;left:83px;">USD 87,027.46</div>
<div style="position:absolute;top:660px;line-height:7.2px;white-space:nowrap;color:#34418c;font-size:7.2px;font-weight:400;letter-spacing:0.67px;-webkit-text-stroke:0.3px #34418c;right:663.23px;">97%</div>
<div style="position:absolute;top:671px;line-height:6.5px;white-space:nowrap;color:#a0a0a8;font-size:6.5px;font-weight:400;letter-spacing:0px;right:663.90px;">Airline</div>
<div style="position:absolute;top:694px;line-height:7.2px;white-space:nowrap;color:#33343d;font-size:7.2px;font-weight:400;letter-spacing:0.271px;-webkit-text-stroke:0.3px #33343d;left:83px;">Royal Hotel Tokyo</div>
<div style="position:absolute;top:706px;line-height:6.5px;white-space:nowrap;color:#55555f;font-size:6.5px;font-weight:400;letter-spacing:0.071px;-webkit-text-stroke:0.15px #55555f;left:83px;">USD 4,062.02</div>
<div style="position:absolute;top:694px;line-height:7.2px;white-space:nowrap;color:#34418c;font-size:7.2px;font-weight:400;letter-spacing:1.105px;-webkit-text-stroke:0.3px #34418c;right:662.80px;">6%</div>
<div style="position:absolute;top:706px;line-height:6.5px;white-space:nowrap;color:#a0a0a8;font-size:6.5px;font-weight:400;letter-spacing:0px;right:663.90px;">Hotel</div>
<div style="position:absolute;top:730px;line-height:7.2px;white-space:nowrap;color:#33343d;font-size:7.2px;font-weight:400;letter-spacing:0.187px;-webkit-text-stroke:0.3px #33343d;left:83px;">Grand Hotel Paris</div>
<div style="position:absolute;top:741px;line-height:6.5px;white-space:nowrap;color:#55555f;font-size:6.5px;font-weight:400;letter-spacing:0.021px;-webkit-text-stroke:0.15px #55555f;left:83px;">USD 3,793.22</div>
<div style="position:absolute;top:730px;line-height:7.2px;white-space:nowrap;color:#34418c;font-size:7.2px;font-weight:400;letter-spacing:0.805px;-webkit-text-stroke:0.3px #34418c;right:663.10px;">5%</div>
<div style="position:absolute;top:741px;line-height:6.5px;white-space:nowrap;color:#a0a0a8;font-size:6.5px;font-weight:400;letter-spacing:0px;right:663.90px;">Hotel</div>
<div style="position:absolute;top:849px;line-height:8px;white-space:nowrap;color:#2d3a8c;font-size:8px;font-weight:700;letter-spacing:-0.279px;left:83.3px;">View All</div>
<div style="position:absolute;top:660px;line-height:7.2px;white-space:nowrap;color:#33343d;font-size:7.2px;font-weight:400;letter-spacing:0.444px;-webkit-text-stroke:0.3px #33343d;left:393px;">Tokyo</div>
<div style="position:absolute;top:671px;line-height:6.5px;white-space:nowrap;color:#55555f;font-size:6.5px;font-weight:400;letter-spacing:-0.166px;-webkit-text-stroke:0.15px #55555f;left:393px;">USD 18,639.19</div>
<div style="position:absolute;top:660px;line-height:7.2px;white-space:nowrap;color:#34418c;font-size:7.2px;font-weight:400;letter-spacing:0.003px;-webkit-text-stroke:0.3px #34418c;right:374.00px;">13%</div>
<div style="position:absolute;top:692px;line-height:7.2px;white-space:nowrap;color:#33343d;font-size:7.2px;font-weight:400;letter-spacing:0.236px;-webkit-text-stroke:0.3px #33343d;left:393px;">Barcelona</div>
<div style="position:absolute;top:704px;line-height:6.5px;white-space:nowrap;color:#55555f;font-size:6.5px;font-weight:400;letter-spacing:-0.212px;-webkit-text-stroke:0.15px #55555f;left:393px;">USD 17,662.01</div>
<div style="position:absolute;top:692px;line-height:7.2px;white-space:nowrap;color:#34418c;font-size:7.2px;font-weight:400;letter-spacing:0.003px;-webkit-text-stroke:0.3px #34418c;right:374.00px;">12%</div>
<div style="position:absolute;top:725px;line-height:7.2px;white-space:nowrap;color:#33343d;font-size:7.2px;font-weight:400;letter-spacing:0.328px;-webkit-text-stroke:0.3px #33343d;left:393px;">New York</div>
<div style="position:absolute;top:737px;line-height:6.5px;white-space:nowrap;color:#55555f;font-size:6.5px;font-weight:400;letter-spacing:-0.258px;-webkit-text-stroke:0.15px #55555f;left:393px;">USD 15,378.13</div>
<div style="position:absolute;top:725px;line-height:7.2px;white-space:nowrap;color:#34418c;font-size:7.2px;font-weight:400;letter-spacing:0.003px;-webkit-text-stroke:0.3px #34418c;right:374.00px;">10%</div>
<div style="position:absolute;top:758px;line-height:7.2px;white-space:nowrap;color:#33343d;font-size:7.2px;font-weight:400;letter-spacing:0.326px;-webkit-text-stroke:0.3px #33343d;left:393px;">Stockholm</div>
<div style="position:absolute;top:770px;line-height:6.5px;white-space:nowrap;color:#55555f;font-size:6.5px;font-weight:400;letter-spacing:-0.035px;-webkit-text-stroke:0.15px #55555f;left:393px;">USD 13,608.04</div>
<div style="position:absolute;top:758px;line-height:7.2px;white-space:nowrap;color:#34418c;font-size:7.2px;font-weight:400;letter-spacing:0.405px;-webkit-text-stroke:0.3px #34418c;right:373.60px;">9%</div>
<div style="position:absolute;top:791px;line-height:7.2px;white-space:nowrap;color:#33343d;font-size:7.2px;font-weight:400;letter-spacing:0.328px;-webkit-text-stroke:0.3px #33343d;left:393px;">Amsterdam</div>
<div style="position:absolute;top:802px;line-height:6.5px;white-space:nowrap;color:#55555f;font-size:6.5px;font-weight:400;letter-spacing:-0.166px;-webkit-text-stroke:0.15px #55555f;left:393px;">USD 12,048.15</div>
<div style="position:absolute;top:791px;line-height:7.2px;white-space:nowrap;color:#34418c;font-size:7.2px;font-weight:400;letter-spacing:0.405px;-webkit-text-stroke:0.3px #34418c;right:373.60px;">8%</div>
<div style="position:absolute;top:849px;line-height:8px;white-space:nowrap;color:#2d3a8c;font-size:8px;font-weight:700;letter-spacing:-0.279px;left:373.8px;">View All</div>
<div style="position:absolute;top:795px;line-height:7.5px;white-space:nowrap;color:#3a3b45;font-size:7.5px;font-weight:400;letter-spacing:-0.042px;-webkit-text-stroke:0.15px #3a3b45;left:674.9px;">Business</div>
<div style="position:absolute;top:821px;line-height:7.5px;white-space:nowrap;color:#3a3b45;font-size:7.5px;font-weight:400;letter-spacing:-0.012px;-webkit-text-stroke:0.15px #3a3b45;left:674.9px;">Entitlement</div>
<div style="position:absolute;top:792px;line-height:8px;white-space:nowrap;color:#1e2235;font-size:8px;font-weight:700;letter-spacing:-0.037px;right:83.34px;">56.8%</div>
<div style="position:absolute;top:804px;line-height:6.5px;white-space:nowrap;color:#a0a0a8;font-size:6.5px;font-weight:400;letter-spacing:-0.204px;right:83.50px;">USD 98,156.55</div>
<div style="position:absolute;top:817px;line-height:8px;white-space:nowrap;color:#1e2235;font-size:8px;font-weight:700;letter-spacing:-0.037px;right:83.34px;">43.2%</div>
<div style="position:absolute;top:829px;line-height:6.5px;white-space:nowrap;color:#a0a0a8;font-size:6.5px;font-weight:400;letter-spacing:-0.273px;right:83.57px;">USD 74,746.12</div>
<div style="position:absolute;top:849px;line-height:8px;white-space:nowrap;color:#2d3a8c;font-size:8px;font-weight:700;letter-spacing:-0.279px;right:83.58px;">View All</div>
<div style="position:absolute;top:890px;line-height:7.3px;white-space:nowrap;color:#363c7a;font-size:7.3px;font-weight:700;letter-spacing:0.018px;left:83.2px;">Total VAT</div>
<div style="position:absolute;top:902px;line-height:12.5px;white-space:nowrap;color:#1f87e3;font-size:12.5px;font-weight:400;letter-spacing:0.147px;-webkit-text-stroke:0.4px #1f87e3;left:83.2px;">USD 21,000.73</div>
<div style="position:absolute;top:890px;line-height:7.3px;white-space:nowrap;color:#363c7a;font-size:7.3px;font-weight:700;letter-spacing:0px;left:519px;">Total Service Fees</div>
<div style="position:absolute;top:902px;line-height:12.5px;white-space:nowrap;color:#1f87e3;font-size:12.5px;font-weight:400;letter-spacing:0.279px;-webkit-text-stroke:0.4px #1f87e3;left:519.2px;">USD 476.84</div>
</body></html>
